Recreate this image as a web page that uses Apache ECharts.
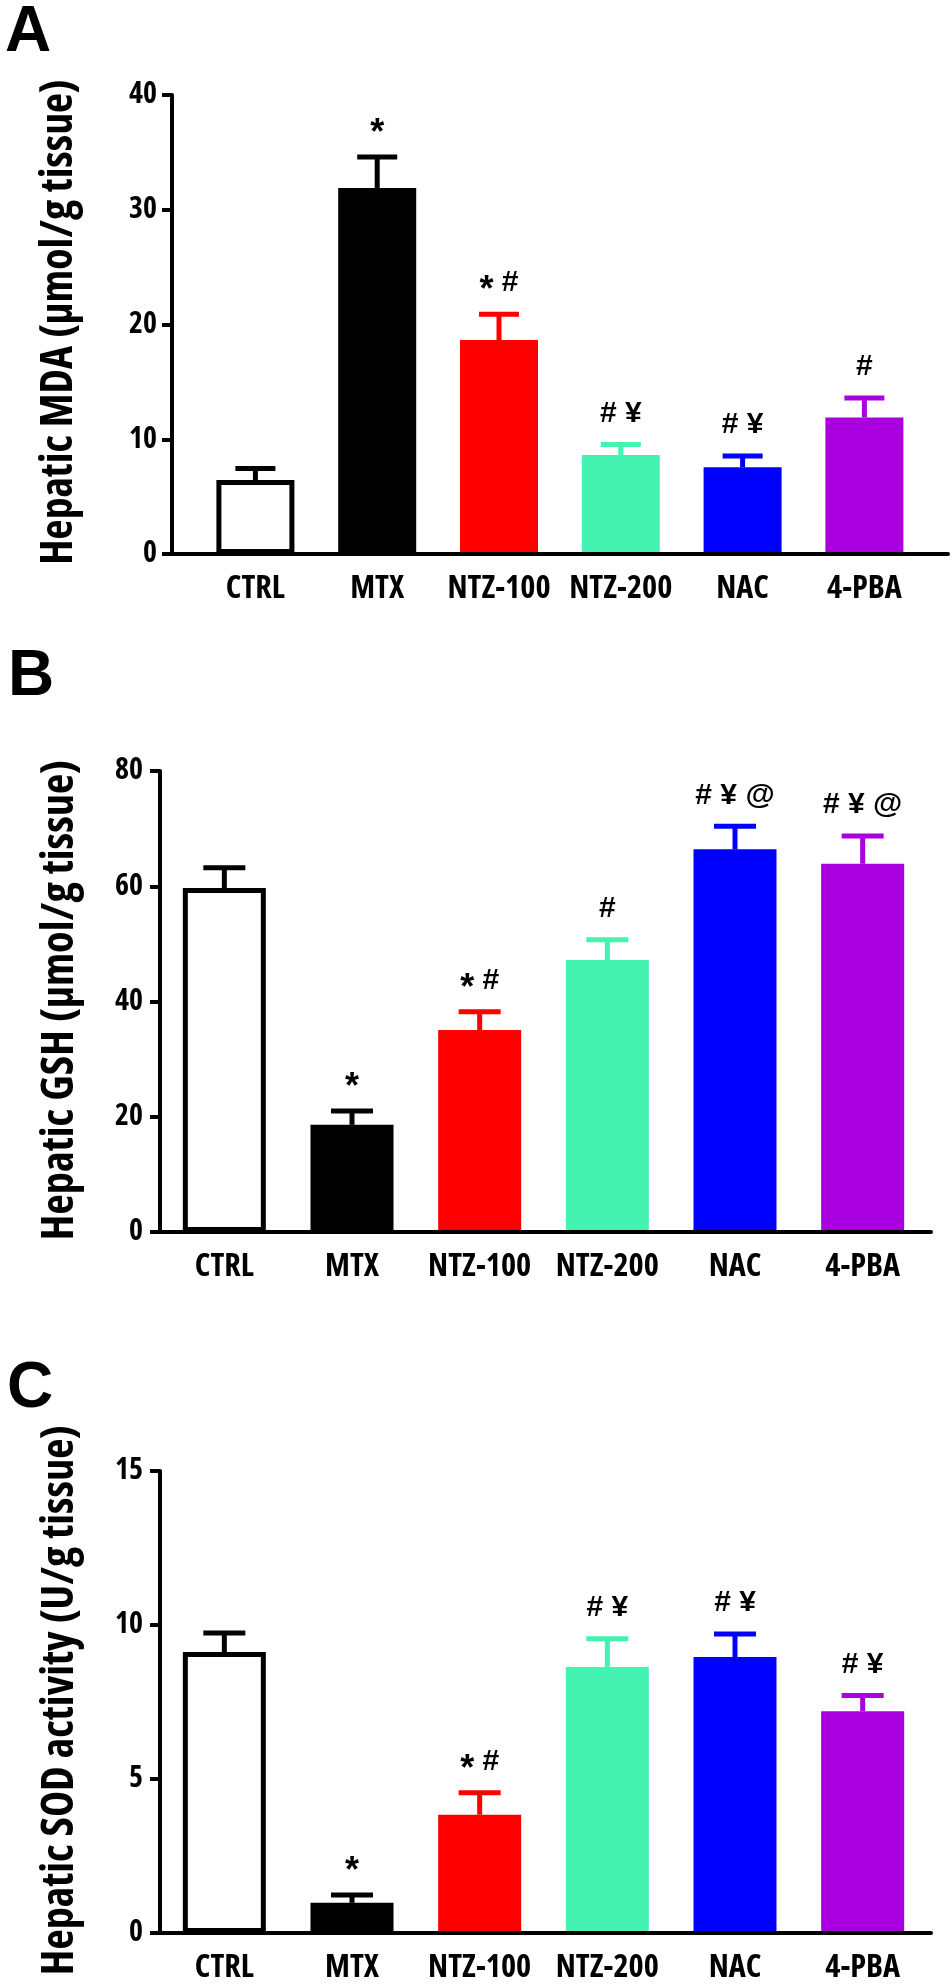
<!DOCTYPE html>
<html><head><meta charset="utf-8">
<script src="https://cdn.jsdelivr.net/npm/echarts@6/dist/echarts.min.js"></script>
<style>html,body{margin:0;padding:0;background:#fff}#c{width:952px;height:1987px}</style>
</head><body><div id="c"></div>
<script>
// ---- data ----
const categories = ['CTRL', 'MTX', 'NTZ-100', 'NTZ-200', 'NAC', '4-PBA'];

const mdaMean = [6.45, 31.9, 18.65, 8.63, 7.55, 11.9];
const mdaSem  = [1.0, 2.7, 2.25, 0.92, 1.0, 1.7];
const mdaSig  = ['', '*', '* #', '# ¥', '# ¥', '#'];

const gshMean = [59.7, 18.6, 35.05, 47.2, 66.4, 63.9];
const gshSem  = [3.5, 2.4, 3.15, 3.5, 4.0, 4.8];
const gshSig  = ['', '*', '* #', '#', '# ¥ @', '# ¥ @'];

const sodMean = [9.12, 0.98, 3.84, 8.64, 8.96, 7.2];
const sodSem  = [0.62, 0.25, 0.71, 0.91, 0.75, 0.51];
const sodSig  = ['', '*', '* #', '# ¥', '# ¥', '# ¥'];

const yTicksA = [0, 10, 20, 30, 40];
const yTicksB = [0, 20, 40, 60, 80];
const yTicksC = [0, 5, 10, 15];

// ---- fonts: find a condensed bold face if one is installed ----
const ARIAL = "'Liberation Sans',Arial,Helvetica,sans-serif";
const meas = document.createElement('canvas').getContext('2d');
function tw(font, s) { meas.font = font; return meas.measureText(s).width; }
const probe = 'NTZ-200 Hepatic tissue 0123456789';
const arialW = tw("bold 100px 'Liberation Sans'", probe);
let COND = { weight: 'bold', family: ARIAL };
const candidates = [
  ['bold', "'Liberation Sans Narrow'"], ['bold', "'Arial Narrow'"],
  ['bold', "'DejaVu Sans Condensed'"], ['bold condensed', "'DejaVu Sans'"],
  ['bold condensed', "'Noto Sans'"], ['bold condensed', "'Open Sans'"]
];
for (const c of candidates) {
  const wm = tw(c[0] + ' 100px ' + c[1] + ', monospace', probe);
  const wmono = tw(c[0] + ' 100px monospace', probe);
  const wplain = tw('bold 100px ' + c[1] + ', monospace', probe);
  const exists = Math.abs(wm - wmono) > 1;
  const narrowEnough = wm < arialW * 0.97 && (c[0] === 'bold' || wm < wplain * 0.95);
  if (exists && narrowEnough) { COND = { weight: c[0], family: c[1] + ', ' + ARIAL }; break; }
}
function sizeFor(sample, targetW) {
  return Math.round(10 * targetW / tw(COND.weight + ' 100px ' + COND.family, sample) * 100) / 10;
}
const xLabelSize = sizeFor('NTZ-200', 103);
const tickSize = sizeFor('40', 28);
const SIG_FONT = 'bold 30px ' + ARIAL;
const AST_FONT = 'bold 36px ' + ARIAL;

// ---- styles ----
const barColors = ['#ffffff', '#000000', '#ff0000', '#44f2b2', '#0000ff', '#aa00e0'];
const errColors = ['#000000', '#000000', '#ff0000', '#44f2b2', '#0000ff', '#aa00e0'];

const panels = [
  { mean: mdaMean, sem: mdaSem, sig: mdaSig, ticks: yTicksA, letter: 'A',
    title: 'Hepatic MDA (µmol/g tissue)',
    layout: { top: 95, height: 459, axisLeft: 172, axisRight: 948, barLeft: 194.5, barSpan: 730.8,
              barW: 78, capW: 40, tickMargin: 15, letterX: 5, letterY: 33.5, titleW: 485, titleY: 322 } },
  { mean: gshMean, sem: gshSem, sig: gshSig, ticks: yTicksB, letter: 'B',
    title: 'Hepatic GSH (µmol/g tissue)',
    layout: { top: 771, height: 461, axisLeft: 160, axisRight: 931, barLeft: 160.5, barSpan: 766,
              barW: 83, capW: 42, tickMargin: 17, letterX: 8, letterY: 677.5, titleW: 480, titleY: 1000 } },
  { mean: sodMean, sem: sodSem, sig: sodSig, ticks: yTicksC, letter: 'C',
    title: 'Hepatic SOD activity (U/g tissue)',
    layout: { top: 1471, height: 462, axisLeft: 160, axisRight: 931, barLeft: 160.5, barSpan: 766,
              barW: 83, capW: 42, tickMargin: 17, letterX: 7, letterY: 1389, titleW: 550, titleY: 1700 } }
];

// significance marks laid out glyph by glyph, asterisk slightly larger and lowered
function sigElements(str, cx, cy) {
  const chars = Array.from(str);
  const ws = chars.map(function (ch) { return tw(ch === '*' ? AST_FONT : SIG_FONT, ch); });
  const total = ws.reduce(function (a, b) { return a + b; }, 0);
  let x = cx - total / 2;
  const out = [];
  chars.forEach(function (ch, j) {
    if (ch !== ' ') {
      out.push({ type: 'text', x: x + ws[j] / 2, y: ch === '*' ? cy + 8 : cy,
        style: { text: ch, align: 'center', verticalAlign: 'middle', font: ch === '*' ? AST_FONT : SIG_FONT, fill: '#000' } });
    }
    x += ws[j];
  });
  return out;
}

const grid = [], xAxis = [], yAxis = [], series = [], graphic = [];

panels.forEach(function (p, k) {
  const L = p.layout;
  const gW = 2 * k, gN = 2 * k + 1;
  const yMax = p.ticks[p.ticks.length - 1];
  const yInt = p.ticks[1] - p.ticks[0];
  grid.push({ left: L.axisLeft, top: L.top, width: L.axisRight - L.axisLeft, height: L.height });
  grid.push({ left: L.barLeft, top: L.top, width: L.barSpan, height: L.height });

  xAxis.push({ gridIndex: gW, type: 'category', data: categories, z: 10,
    axisLine: { show: true, lineStyle: { color: '#000', width: 4 } },
    axisTick: { show: false }, axisLabel: { show: false }, splitLine: { show: false } });
  xAxis.push({ gridIndex: gN, type: 'category', data: categories,
    axisLine: { show: false }, axisTick: { show: false }, splitLine: { show: false },
    axisLabel: { interval: 0, margin: 19, color: '#000', fontFamily: COND.family, fontWeight: COND.weight, fontSize: xLabelSize } });

  yAxis.push({ gridIndex: gW, type: 'value', min: 0, max: yMax, interval: yInt, z: 10,
    axisLine: { show: true, lineStyle: { color: '#000', width: 4 } },
    axisTick: { show: true, length: 10, lineStyle: { color: '#000', width: 4 } },
    splitLine: { show: false },
    axisLabel: { margin: L.tickMargin, color: '#000', fontFamily: COND.family, fontWeight: COND.weight, fontSize: tickSize } });
  yAxis.push({ gridIndex: gN, type: 'value', min: 0, max: yMax, interval: yInt, show: false, splitLine: { show: false } });

  series.push({
    type: 'bar', xAxisIndex: gN, yAxisIndex: gN, barWidth: L.barW, z: 2, silent: true,
    data: p.mean.map(function (v, i) {
      return { value: v, itemStyle: i === 0
        ? { color: '#ffffff', borderColor: '#000000', borderWidth: 5 }
        : { color: barColors[i] } };
    })
  });

  const sig = p.sig, capW = L.capW;
  series.push({
    type: 'custom', xAxisIndex: gN, yAxisIndex: gN, z: 3, silent: true,
    encode: { x: 0, y: [1, 2] },
    data: p.mean.map(function (v, i) { return [i, v, v + p.sem[i]]; }),
    renderItem: function (params, api) {
      const i = api.value(0);
      const p0 = api.coord([i, api.value(1)]);
      const p1 = api.coord([i, api.value(2)]);
      const col = errColors[i];
      const children = [
        { type: 'line', shape: { x1: p0[0], y1: p0[1], x2: p1[0], y2: p1[1] }, style: { stroke: col, lineWidth: 5 } },
        { type: 'line', shape: { x1: p1[0] - capW / 2, y1: p1[1], x2: p1[0] + capW / 2, y2: p1[1] }, style: { stroke: col, lineWidth: 5 } }
      ].concat(sigElements(sig[i], p1[0], p1[1] - 31));
      return { type: 'group', children: children };
    }
  });

  const titleSize = sizeFor(p.title, L.titleW);
  graphic.push({ type: 'text', x: 60, y: L.titleY, rotation: Math.PI / 2,
    style: { text: p.title, align: 'center', verticalAlign: 'middle',
             font: COND.weight + ' ' + titleSize + 'px ' + COND.family, fill: '#000' } });
  graphic.push({ type: 'text', x: L.letterX, y: L.letterY,
    style: { text: p.letter, align: 'left', verticalAlign: 'middle', font: 'bold 64px ' + ARIAL, fill: '#000' } });
});

const chart = echarts.init(document.getElementById('c'), null, { renderer: 'canvas' });
chart.setOption({ animation: false, backgroundColor: '#ffffff', grid: grid, xAxis: xAxis, yAxis: yAxis, series: series, graphic: graphic });
</script>
</body></html>
